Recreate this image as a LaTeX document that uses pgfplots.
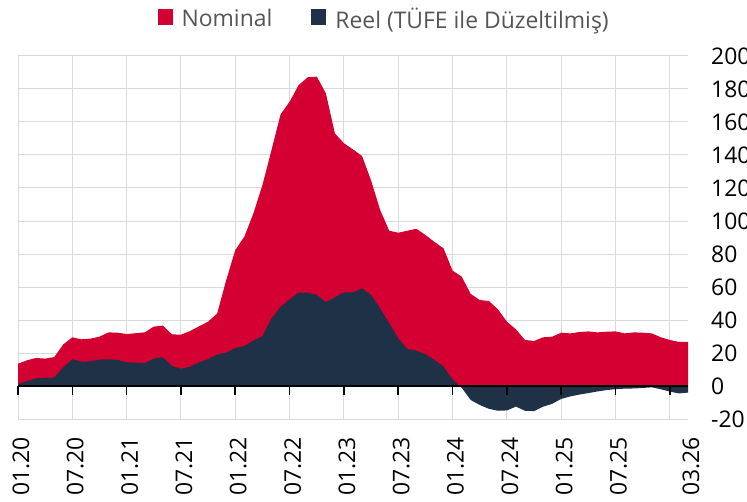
\documentclass[border=0pt]{standalone}
\usepackage{pgfplots}
\pgfplotsset{compat=1.18}
\usepackage{pgfplotstable}
\usepackage{fontspec}
\setmainfont{Open Sans}
\definecolor{nomred}{RGB}{213,0,50}
\definecolor{realnavy}{RGB}{31,49,70}
\definecolor{gridgray}{RGB}{217,217,217}
\definecolor{leggray}{RGB}{85,85,85}
\pgfplotstableread{
i nom real
0 13.5 1.2
1 15.6 3.0
2 17.0 4.6
3 16.6 5.0
4 17.5 5.2
5 25.2 11.3
6 29.5 16.2
7 28.3 14.7
8 28.7 15.0
9 29.9 16.0
10 32.5 16.2
11 32.3 15.8
12 31.5 14.4
13 32.0 14.2
14 32.5 13.9
15 36.0 16.6
16 36.6 17.4
17 31.3 12.1
18 31.1 10.5
19 33.3 11.7
20 36.2 14.4
21 39.0 16.2
22 44.0 19.2
23 64.2 20.2
24 82.4 23.0
25 90.5 24.2
26 104.6 27.5
27 121.8 30.3
28 143.0 41.0
29 164.6 48.0
30 172.3 52.5
31 182.4 56.6
32 187.1 56.6
33 187.5 55.2
34 177.4 50.9
35 153.1 53.7
36 147.1 56.8
37 143.4 56.8
38 139.4 59.2
39 124.5 55.2
40 106.7 47.0
41 94.1 38.0
42 92.9 28.9
43 94.1 22.4
44 95.3 21.4
45 91.5 19.2
46 87.3 15.8
47 83.4 11.7
48 69.9 4.0
49 66.3 -1.0
50 55.8 -8.5
51 52.1 -11.5
52 51.5 -13.8
53 46.5 -15.0
54 39.0 -14.8
55 34.3 -12.5
56 27.9 -15.0
57 27.3 -15.2
58 29.5 -12.5
59 29.9 -10.8
60 32.3 -7.8
61 31.9 -6.3
62 32.7 -5.2
63 33.1 -4.3
64 32.5 -3.3
65 32.9 -2.5
66 33.1 -1.9
67 31.9 -1.6
68 32.5 -1.5
69 32.3 -1.2
70 31.9 -0.8
71 29.5 -2.0
72 27.9 -3.4
73 26.7 -4.5
74 26.7 -4.0
}\datatable
\begin{document}
\begin{tikzpicture}
\begin{axis}[
  at={(0,0)}, anchor=south west,
  scale only axis, width=670bp, height=363bp,
  xmin=0, xmax=74, ymin=-20, ymax=200,
  axis line style={draw=none},
  major tick length=0pt,
  grid=major,
  grid style={gridgray, line width=1bp},
  xtick={0,6,...,72},
  xticklabels={01.20,07.20,01.21,07.21,01.22,07.22,01.23,07.23,01.24,07.24,01.25,07.25,{}},
  extra x ticks={74},
  extra x tick labels={03.26},
  extra x tick style={xmajorgrids=false},
  ytick={-20,0,...,200},
  yticklabel pos=right,
  /pgf/number format/assume math mode=true,
  ticklabel style={font=\fontsize{23}{27}\selectfont, text=black, inner sep=0pt},
  yticklabel style={anchor=west, xshift=23bp},
  xticklabel style={xshift=3bp, rotate=90, anchor=east},
  xticklabel shift=18bp,
  legend style={at={(0.545,1.102)}, anchor=center, draw=none, fill=none,
    legend columns=2, font=\fontsize{23}{27}\selectfont, text=leggray,
    nodes={inner sep=0pt},
    /tikz/every odd column/.append style={column sep=9bp},
    /tikz/every even column/.append style={column sep=39bp}},
  legend image code/.code={\fill[#1] (0bp,-6bp) rectangle (15bp,10bp);},
]
\addplot[fill=nomred, draw=none] table[x=i, y=nom] {\datatable} \closedcycle;
\addlegendentry{Nominal}
\addplot[fill=realnavy, draw=none] table[x=i, y=real] {\datatable} \closedcycle;
\addlegendentry{Reel (TÜFE ile Düzeltilmiş)}
\coordinate (zl) at (axis cs:0,0);
\coordinate (zr) at (axis cs:74,0);
\pgfplotsinvokeforeach{0,6,...,72}{\coordinate (t#1) at (axis cs:#1,0);}
\end{axis}
\draw[black, line width=1.6bp] (zl) -- (zr);
\foreach \i in {0,6,...,72}{\draw[black, line width=1.6bp] (t\i) -- ++(0bp,-9bp);}
\pgfresetboundingbox
\useasboundingbox (-18bp,-83bp) rectangle (729bp,419bp);
\end{tikzpicture}
\end{document}
